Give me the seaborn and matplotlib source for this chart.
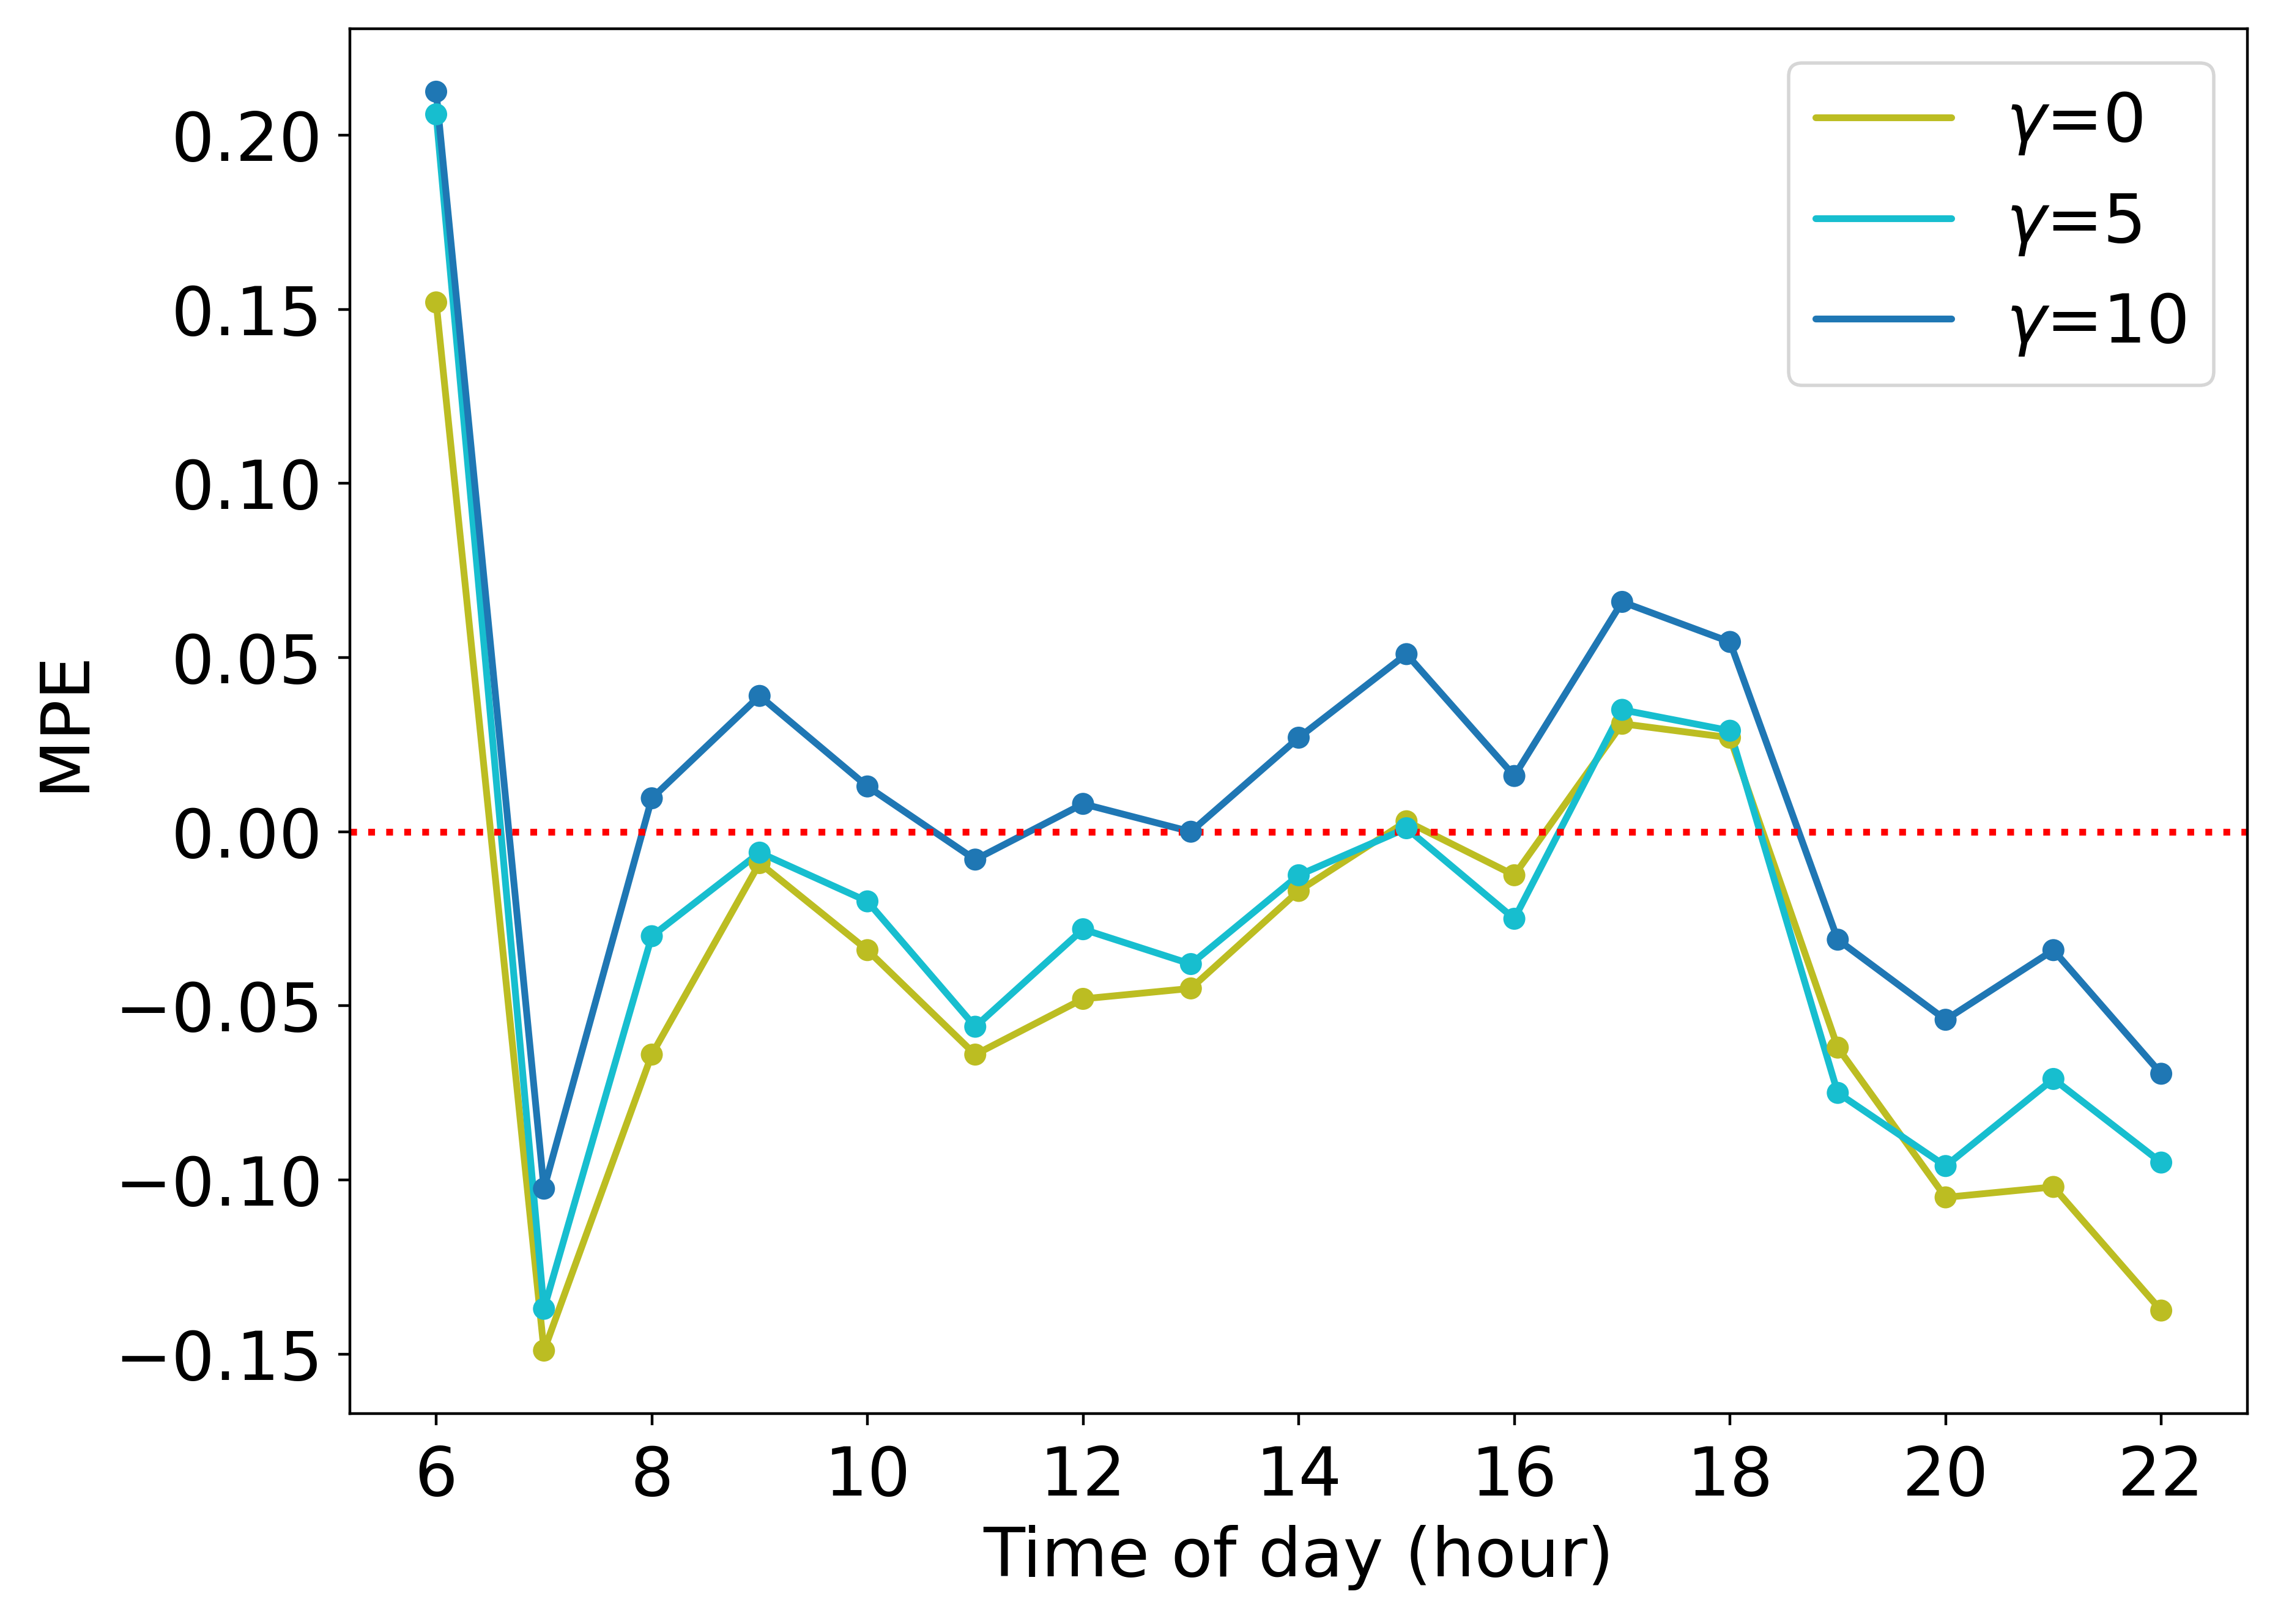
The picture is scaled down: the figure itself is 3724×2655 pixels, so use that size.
import numpy as np
import pandas as pd
import seaborn as sns
import matplotlib.pyplot as plt

# valeurs
hours = [6, 7, 8, 9, 10, 11, 12, 13, 14, 15, 16, 17, 18, 19, 20, 21, 22]
mpe_g0 = [0.152, -0.149, -0.064, -0.009, -0.034, -0.064, -0.048, -0.045, -0.017,
          0.003, -0.0125, 0.031, 0.027, -0.062, -0.105, -0.102, -0.1375]
mpe_g5 = [0.206, -0.137, -0.030, -0.006, -0.020, -0.056, -0.028, -0.038, -0.0125,
          0.001, -0.025, 0.035, 0.029, -0.075, -0.096, -0.071, -0.095]
mpe_g10 = [0.2125, -0.1025, 0.0096, 0.039, 0.013, -0.008, 0.008, 0.0, 0.027,
           0.051, 0.016, 0.066, 0.0545, -0.031, -0.054, -0.034, -0.0695]
labels = [r"$\gamma$=0", r"$\gamma$=5", r"$\gamma$=10"]
colors = ["#bcbd22", "#17becf", "#1f77b4"]

df = pd.DataFrame({
    "hour": hours * 3,
    "mpe": mpe_g0 + mpe_g5 + mpe_g10,
    "gamma": [labels[0]] * len(hours) + [labels[1]] * len(hours) + [labels[2]] * len(hours),
})

sns.set_style("ticks", {"axes.edgecolor": "black", "xtick.color": "black",
                        "ytick.color": "black", "text.color": "black",
                        "axes.labelcolor": "black"})
plt.rcParams['font.family'] = ['DejaVu Sans']
plt.rcParams['mathtext.fontset'] = 'dejavusans'

fig = plt.figure(figsize=(9.31, 6.6375), dpi=400)
ax = fig.add_axes([0.1536, 0.1296, 0.9866 - 0.1536, 0.9823 - 0.1296])

sns.lineplot(data=df, x="hour", y="mpe", hue="gamma", palette=colors,
             linewidth=2.0, ax=ax)
sns.scatterplot(data=df, x="hour", y="mpe", hue="gamma", palette=colors,
                s=42, edgecolor=None, linewidth=0, legend=False, ax=ax, zorder=3)

ax.axhline(0, color="red", linestyle=":", linewidth=2.0)

ax.set_xticks(range(6, 23, 2))
ax.set_yticks([-0.15, -0.10, -0.05, 0.00, 0.05, 0.10, 0.15, 0.20])
ax.set_yticklabels([f"{v:.2f}".replace("-", "\u2212") for v in ax.get_yticks()])
ax.tick_params(labelsize=20, width=0.8, length=3.5)
ax.tick_params(axis="x", pad=5.5)
ax.tick_params(axis="y", pad=4.5)
for sp in ax.spines.values():
    sp.set_linewidth(0.8)
ax.set_xlabel("Time of day (hour)", fontsize=20, labelpad=4.5)
ax.set_ylabel("MPE", fontsize=20, labelpad=5)

leg = ax.legend(loc="upper right", fontsize=20, frameon=True)
leg.set_title(None)
for line in leg.get_lines():
    line.set_linewidth(2.0)

fig.savefig("out.png", dpi=400)
